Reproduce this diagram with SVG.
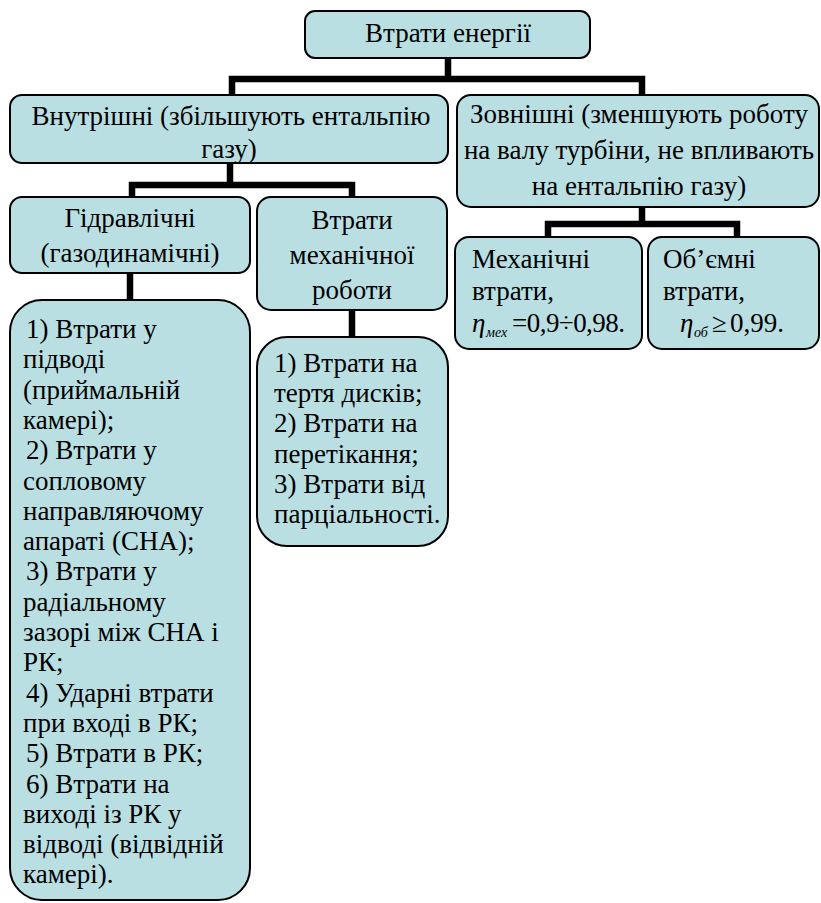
<svg xmlns="http://www.w3.org/2000/svg" width="821" height="903" viewBox="0 0 821 903">
<style>
.box{fill:#b9dfe3;stroke:#000;stroke-width:2}
text{font-family:'Liberation Serif','Times New Roman',Tinos,'DejaVu Serif',serif;font-size:27px;fill:#000}
.c{text-anchor:middle}
.i{font-style:italic}
.sub{font-style:italic;font-size:14px}
.conn{fill:none;stroke:#000;stroke-width:6.5;stroke-linejoin:miter;stroke-linecap:butt}
</style>
<rect width="821" height="903" fill="#fff"/>
<g id="connectors">
<path class="conn" d="M448,58 V79 M232,95 V79 H642 V95"/>
<path class="conn" d="M230,163 V185 M132,197 V185 H352 V197"/>
<path class="conn" d="M642,207 V224 M548,237 V224 H737 V237"/>
<path class="conn" d="M130,273 V300"/>
<path class="conn" d="M352,310 V337"/>
</g>
<g id="n-root">
<rect class="box" x="305" y="11" width="285" height="47" rx="10"/>
<text class="c" x="448" y="42">Втрати енергії</text>
</g>
<g id="n-internal">
<rect class="box" x="10" y="95" width="438" height="68" rx="12"/>
<text class="c" x="231" y="125">Внутрішні (збільшують ентальпію</text>
<text class="c" x="229" y="158">газу)</text>
</g>
<g id="n-external">
<rect class="box" x="457" y="95" width="362" height="112" rx="14"/>
<text class="c" x="639" y="123">Зовнішні (зменшують роботу</text>
<text class="c" x="639" y="159">на валу турбіни, не впливають</text>
<text class="c" x="639" y="195">на ентальпію газу)</text>
</g>
<g id="n-hydraulic">
<rect class="box" x="10" y="197" width="240" height="76" rx="12"/>
<text class="c" x="130" y="227">Гідравлічні</text>
<text class="c" x="130" y="262">(газодинамічні)</text>
</g>
<g id="n-mechwork">
<rect class="box" x="257" y="197" width="190" height="113" rx="14"/>
<text class="c" x="352" y="229">Втрати</text>
<text class="c" x="352" y="264">механічної</text>
<text class="c" x="352" y="299">роботи</text>
</g>
<g id="n-mech">
<rect class="box" x="455" y="237" width="187" height="112" rx="14"/>
<text x="472" y="268">Механічні</text>
<text x="472" y="300">втрати,</text>
<text class="i" x="472" y="332">η</text>
<text class="sub" x="486" y="337">мех</text>
<text x="512" y="332" textLength="113" lengthAdjust="spacing">=0,9÷0,98.</text>
</g>
<g id="n-volume">
<rect class="box" x="648" y="237" width="171" height="112" rx="14"/>
<text x="663" y="268">Об’ємні</text>
<text x="663" y="300">втрати,</text>
<text class="i" x="680" y="332">η</text>
<text class="sub" x="694" y="337">об</text>
<text x="712" y="332">≥</text>
<text x="730" y="332">0,99.</text>
</g>
<g id="n-hydlist">
<rect class="box" x="10" y="300" width="240" height="600" rx="32"/>
<text>
<tspan x="26" y="338">1) Втрати у</tspan>
<tspan x="23" y="368.3">підводі</tspan>
<tspan x="23" y="398.6">(приймальній</tspan>
<tspan x="23" y="428.9">камері);</tspan>
<tspan x="26" y="459.2">2) Втрати у</tspan>
<tspan x="23" y="489.5">сопловому</tspan>
<tspan x="23" y="519.8">направляючому</tspan>
<tspan x="23" y="550.1">апараті (СНА);</tspan>
<tspan x="26" y="580.4">3) Втрати у</tspan>
<tspan x="23" y="610.7">радіальному</tspan>
<tspan x="23" y="641">зазорі між СНА і</tspan>
<tspan x="23" y="671.3">РК;</tspan>
<tspan x="26" y="701.6">4) Ударні втрати</tspan>
<tspan x="23" y="731.9">при вході в РК;</tspan>
<tspan x="26" y="762.2">5) Втрати в РК;</tspan>
<tspan x="26" y="792.5">6) Втрати на</tspan>
<tspan x="23" y="822.8">виході із РК у</tspan>
<tspan x="23" y="853.1">відводі (відвідній</tspan>
<tspan x="23" y="883.4">камері).</tspan>
</text>
</g>
<g id="n-mechlist">
<rect class="box" x="257" y="337" width="191" height="209" rx="30"/>
<text>
<tspan x="274" y="372">1) Втрати на</tspan>
<tspan x="274" y="402.2">тертя дисків;</tspan>
<tspan x="274" y="432.4">2) Втрати на</tspan>
<tspan x="274" y="462.6">перетікання;</tspan>
<tspan x="274" y="492.8">3) Втрати від</tspan>
<tspan x="274" y="523">парціальності.</tspan>
</text>
</g>
</svg>
